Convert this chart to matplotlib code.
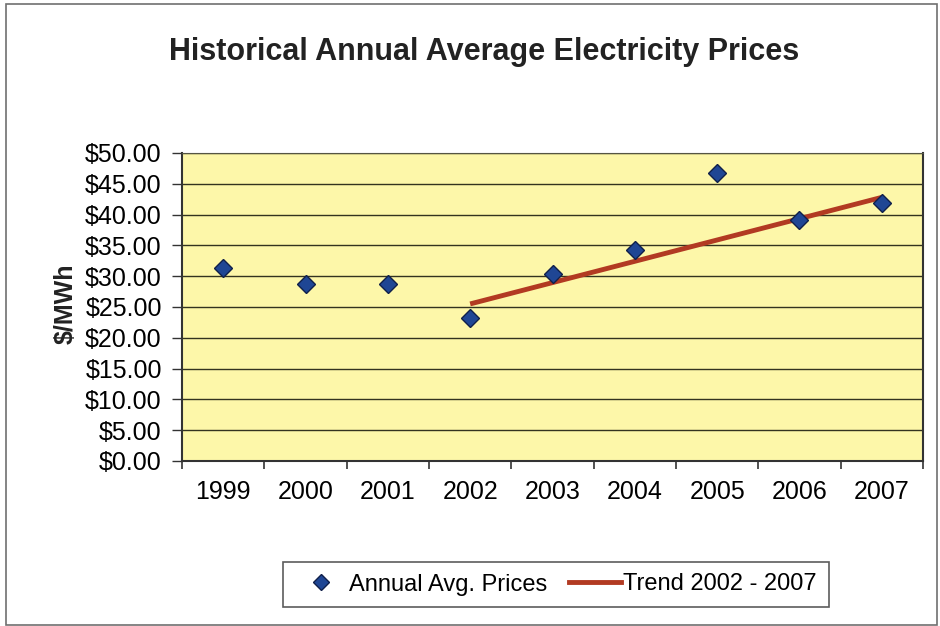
import matplotlib
matplotlib.use("Agg")
import matplotlib.pyplot as plt
from matplotlib.patches import Rectangle
from matplotlib.lines import Line2D

years = ["1999", "2000", "2001", "2002", "2003", "2004", "2005", "2006", "2007"]
prices = [31.3, 28.8, 28.8, 23.2, 30.4, 34.2, 46.8, 39.1, 41.9]
trend_years = ["2002", "2007"]
trend_values = [25.5, 42.8]
y_ticks = [0, 5, 10, 15, 20, 25, 30, 35, 40, 45, 50]

plt.rcParams['font.family'] = ['Liberation Sans', 'DejaVu Sans']

W, H = 940, 626
fig = plt.figure(figsize=(W / 100, H / 100), dpi=100)
fig.patch.set_facecolor('white')

# chart frame
fig.patches.append(Rectangle((6 / W, 1 / H), (937 - 6) / W, (621) / H,
                             transform=fig.transFigure, fill=False,
                             edgecolor='#707070', linewidth=1.2))

ax = fig.add_axes([182 / W, (H - 461) / H, (923 - 182) / W, (461 - 153) / H])
ax.set_facecolor('#FDF7A9')

xpos = list(range(len(years)))
ax.set_xlim(-0.5, len(years) - 0.5)
ax.set_ylim(0, 50)

ax.set_yticks(y_ticks)
ax.set_yticklabels(["${:.2f}".format(v) for v in y_ticks], fontsize=18)
ax.yaxis.grid(True, color='#33331f', linewidth=1.0)
ax.set_axisbelow(True)

ax.set_xticks([i - 0.5 for i in range(len(years) + 1)])
ax.set_xticklabels([])
ax.set_xticks(xpos, minor=True)
ax.set_xticklabels(years, minor=True, fontsize=18)
ax.tick_params(axis='x', which='minor', length=0, pad=14)
ax.tick_params(axis='x', which='major', length=6, width=1.2, color='#333333')
ax.tick_params(axis='y', length=7, width=1.0, color='#333333', pad=7.5)

for s in ['left', 'bottom']:
    ax.spines[s].set_color('#333333')
    ax.spines[s].set_linewidth(1.5)
ax.spines['top'].set_color('#555544')
ax.spines['right'].set_color('#333333')
ax.spines['right'].set_linewidth(1.5)

ax.plot(xpos, prices, linestyle='none', marker='D', markersize=9,
        markerfacecolor='#1F4694', markeredgecolor='#10204a', markeredgewidth=1.0,
        zorder=4)
tx = [years.index(y) for y in trend_years]
ax.plot(tx, trend_values, color='#B23A22', linewidth=3.5, solid_capstyle='butt', zorder=3)

fig.text(484 / W, 1 - 60 / H, "Historical Annual Average Electricity Prices",
         ha='center', va='baseline', fontsize=22, fontweight='bold', color='#222222')
fig.text(66 / W, 1 - 304 / H, "$/MWh", rotation=90, ha='center', va='center',
         fontsize=18, fontweight='bold', color='#222222')

handles = [
    Line2D([], [], linestyle='none', marker='D', markersize=8,
           markerfacecolor='#1F4694', markeredgecolor='#10204a'),
    Line2D([], [], color='#B23A22', linewidth=3.5),
]
leg = fig.legend(handles, ["Annual Avg. Prices", "Trend 2002 - 2007"],
                 loc='center', bbox_to_anchor=(556 / W, 1 - 584.5 / H),
                 ncol=2, fontsize=17, frameon=True, fancybox=False,
                 edgecolor='#333333', handlelength=2.2, handletextpad=0.1,
                 columnspacing=0.9, borderpad=0.5, borderaxespad=0)
leg.get_frame().set_linewidth(1.2)

fig.savefig("out.png", dpi=100)
